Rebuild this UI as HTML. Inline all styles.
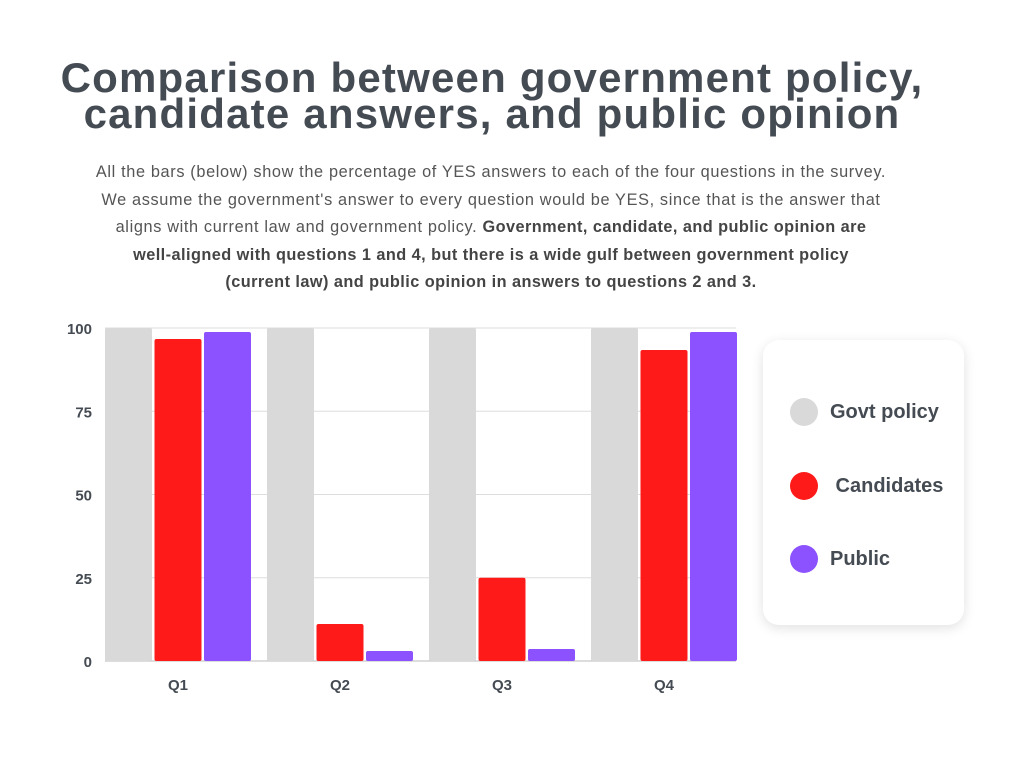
<!DOCTYPE html>
<html><head><meta charset="utf-8"><style>
body{margin:0;width:1024px;height:768px;background:#fff;font-family:"Liberation Sans",sans-serif;overflow:hidden;position:relative}
#title{position:absolute;left:0;width:984px;top:60px;text-align:center;font-weight:bold;font-size:42px;line-height:36px;color:#454b53;letter-spacing:1.2px;white-space:nowrap}
#sub{position:absolute;left:40px;width:902px;top:159px;text-align:center;font-size:16.3px;line-height:27.5px;color:#555;letter-spacing:0.65px;white-space:nowrap}
#sub b{color:#444;letter-spacing:0.45px}
#legend{position:absolute;left:763px;top:340px;width:201px;height:285px;border-radius:16px;background:#fff;box-shadow:0 3px 12px rgba(0,0,0,0.12)}
.li{position:absolute;left:27px;font-weight:bold;font-size:20px;color:#454b53;display:flex;align-items:center}
.dot{width:28px;height:28px;border-radius:50%;margin-right:12px}
</style></head><body>
<div id="title">Comparison between government policy,<br>candidate answers, and public opinion</div>
<div id="sub">All the bars (below) show the percentage of YES answers to each of the four questions in the survey.<br>We assume the government's answer to every question would be YES, since that is the answer that<br>aligns with current law and government policy. <b>Government, candidate, and public opinion are<br>well-aligned with questions 1 and 4, but there is a wide gulf between government policy<br>(current law) and public opinion in answers to questions 2 and 3.</b></div>
<svg id="chart" width="1024" height="768" style="position:absolute;left:0;top:0"></svg>
<div id="legend">
<div class="li" style="top:58px"><span class="dot" style="background:#d9d9d9"></span>Govt policy</div>
<div class="li" style="top:132px"><span class="dot" style="background:#ff1a1a"></span>&nbsp;Candidates</div>
<div class="li" style="top:205px"><span class="dot" style="background:#8c52ff"></span>Public</div>
</div>
<script>
const categories=["Q1","Q2","Q3","Q4"];
const govt=[100,100,100,100];
const candidates=[96.7,11.1,25,93.4];
const publicOp=[98.8,3,3.6,98.8];
const ticks=[0,25,50,75,100];
const svg=document.getElementById('chart');
const NS="http://www.w3.org/2000/svg";
const x0=105,x1=736,yTop=328,yBot=661;
const y=v=>yBot-(yBot-yTop)*v/100;
function mk(t,a){const e=document.createElementNS(NS,t);for(const k in a)e.setAttribute(k,a[k]);svg.appendChild(e);return e;}
ticks.forEach(t=>{
 const l=mk('line',{x1:x0,x2:x1,y1:y(t),y2:y(t),stroke:t===0?'#bbb':'#ddd','stroke-width':1});
 
 
 const tx=mk('text',{x:92,y:y(t)+6,'text-anchor':'end','font-size':15,'font-weight':'bold',fill:'#454b53','font-family':'Liberation Sans'});
 tx.textContent=t;
 
 
});
const groupW=(x1-x0+17)/4, bw=47, gap=2.5;
const series=[[govt,'#d9d9d9','govt'],[candidates,'#ff1a1a','candidates'],[publicOp,'#8c52ff','public']];
categories.forEach((c,i)=>{
 const gx=x0+i*groupW;
 series.forEach((s,j)=>{
  const v=s[0][i],bx=gx+j*(bw+gap);
  const r=mk('rect',{x:bx,y:y(v),width:bw,height:yBot-y(v),fill:s[1],rx:2});
  
  
 });
 const t=mk('text',{x:gx+1.5*bw+gap,y:690,'text-anchor':'middle','font-size':15,'font-weight':'bold',fill:'#454b53','font-family':'Liberation Sans'});
 t.textContent=c;
 
 
});
</script>
</body></html>
